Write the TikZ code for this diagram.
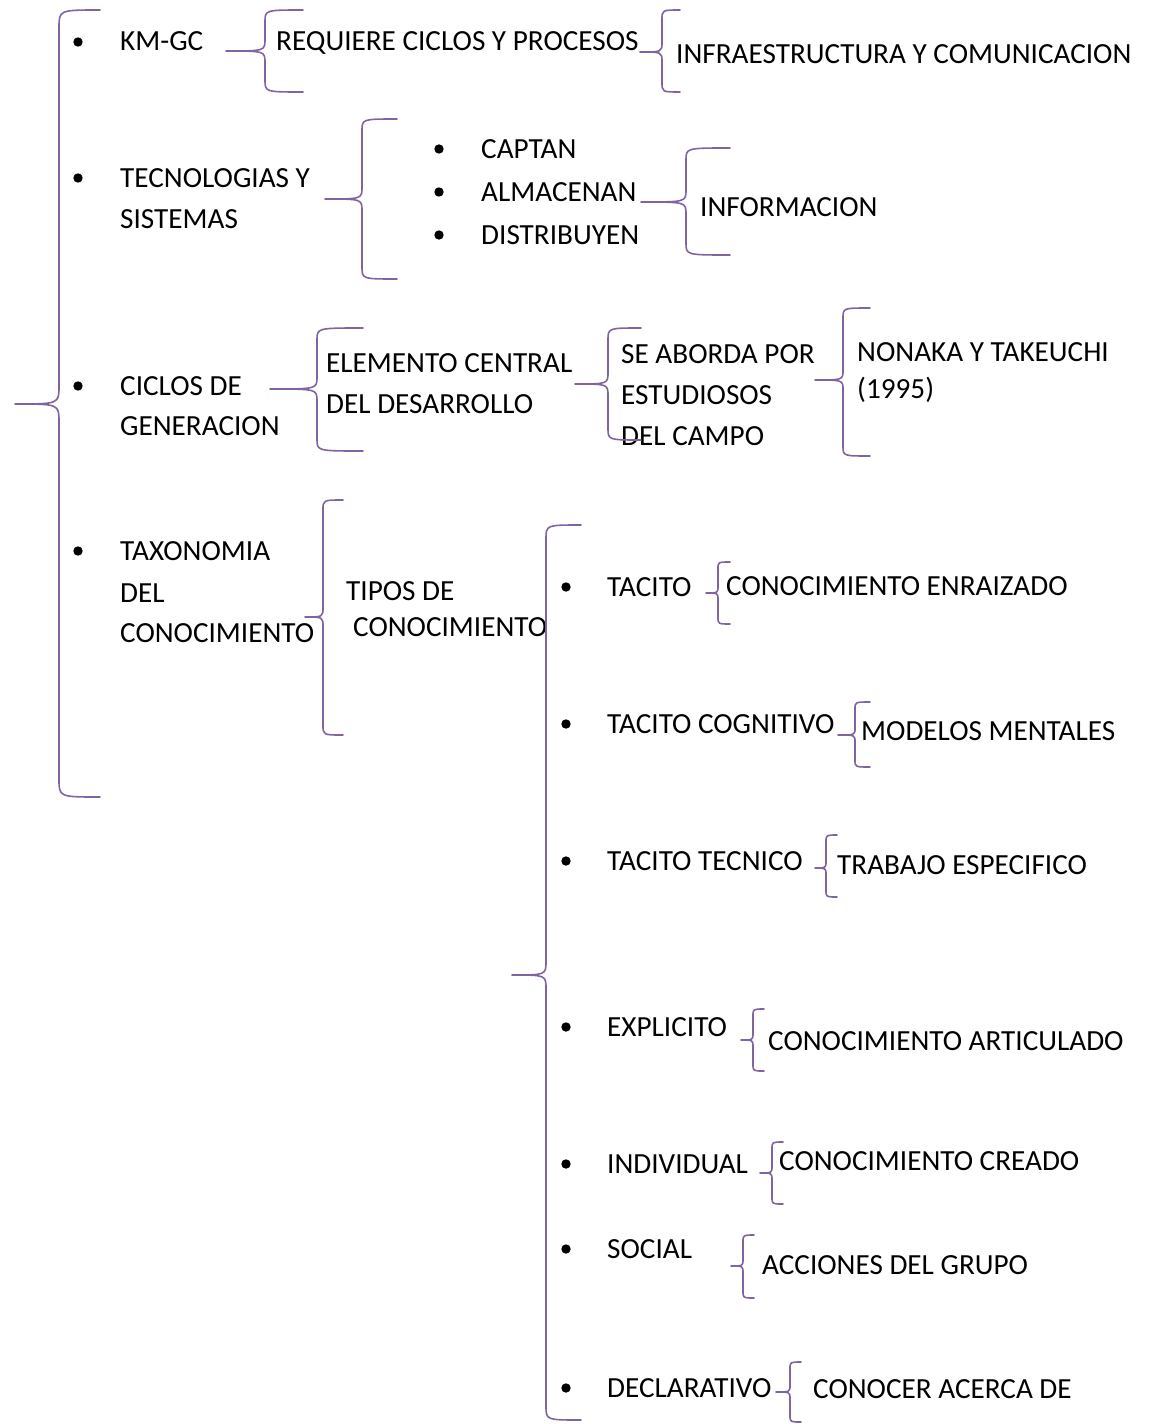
\documentclass[tikz,border=0pt]{standalone}
\usepackage{fontspec}
\setmainfont{Carlito}
\definecolor{brcol}{HTML}{8064A2}
\tikzset{
  lbl/.style={anchor=base west, inner sep=0pt, font=\fontsize{29.2}{35}\selectfont},
  bul/.style={circle, fill=black, inner sep=0pt, minimum size=9.4pt},
  bracepath/.style={draw=brcol, line width=1.6pt, line join=round, line cap=round}
}
% #1 tipx, #2 tipy, #3 vertical x, #4 end x, #5 top y, #6 bottom y, #7 corner size
\newcommand\mybrace[7]{%
  \draw[bracepath] (#4,#5) .. controls (#3,#5) .. ({#3},{#5+#7}) -- ({#3},{#2-#7})
    .. controls (#3,#2) .. (#1,#2) .. controls (#3,#2) .. ({#3},{#2+#7})
    -- ({#3},{#6-#7}) .. controls (#3,#6) .. (#4,#6);}
\begin{document}
\begin{tikzpicture}[x=1pt,y=-1pt]
\useasboundingbox (0,0) rectangle (1153,1424);
% level 1 bullets
\node[bul] (b1) at (78,42) {};
\node[bul] (b2) at (78,178) {};
\node[bul] (b3) at (78,386) {};
\node[bul] (b4) at (78,551) {};
\node[lbl] (kmgc) at (120,50) {KM-GC};
\node[lbl] (tec1) at (120,187) {TECNOLOGIAS Y};
\node[lbl] (tec2) at (120,228) {SISTEMAS};
\node[lbl] (cic1) at (120,395) {CICLOS DE};
\node[lbl] (cic2) at (120,435) {GENERACION};
\node[lbl] (tax1) at (120,560) {TAXONOMIA};
\node[lbl] (tax2) at (120,602) {DEL};
\node[lbl] (tax3) at (120,642) {CONOCIMIENTO};
% KM-GC branch
\node[lbl] (req) at (276,50) {REQUIERE CICLOS Y PROCESOS};
\node[lbl] (infra) at (676,63) {INFRAESTRUCTURA Y COMUNICACION};
% Tecnologias branch
\node[bul] (bc1) at (439,149) {};
\node[bul] (bc2) at (439,192) {};
\node[bul] (bc3) at (439,235) {};
\node[lbl] (captan) at (481,158) {CAPTAN};
\node[lbl] (almac) at (481,201) {ALMACENAN};
\node[lbl] (distr) at (481,244) {DISTRIBUYEN};
\node[lbl] (info) at (700,216) {INFORMACION};
% Ciclos branch
\node[lbl] (ele1) at (326,372) {ELEMENTO CENTRAL};
\node[lbl] (ele2) at (326,413) {DEL DESARROLLO};
\node[lbl] (se1) at (621,363) {SE ABORDA POR};
\node[lbl] (se2) at (621,404) {ESTUDIOSOS};
\node[lbl] (se3) at (621,445) {DEL CAMPO};
\node[lbl] (non1) at (857,361) {NONAKA Y TAKEUCHI};
\node[lbl] (non2) at (857,398) {(1995)};
% Taxonomia branch
\node[lbl] (tip1) at (346,600) {TIPOS DE};
\node[lbl] (tip2) at (353,636) {CONOCIMIENTO};
% types
\node[bul] (t1) at (566,587) {};
\node[bul] (t2) at (566,724) {};
\node[bul] (t3) at (566,861) {};
\node[bul] (t4) at (566,1027) {};
\node[bul] (t5) at (566,1164) {};
\node[bul] (t6) at (566,1249) {};
\node[bul] (t7) at (566,1388) {};
\node[lbl] (tacito) at (607,596) {TACITO};
\node[lbl] (tcog) at (607,733) {TACITO COGNITIVO};
\node[lbl] (ttec) at (607,870) {TACITO TECNICO};
\node[lbl] (expl) at (607,1036) {EXPLICITO};
\node[lbl] (indiv) at (607,1173) {INDIVIDUAL};
\node[lbl] (social) at (607,1258) {SOCIAL};
\node[lbl] (decl) at (607,1397) {DECLARATIVO};
\node[lbl] (d1) at (726,595) {CONOCIMIENTO ENRAIZADO};
\node[lbl] (d2) at (861,740) {MODELOS MENTALES};
\node[lbl] (d3) at (837,874) {TRABAJO ESPECIFICO};
\node[lbl] (d4) at (768,1050) {CONOCIMIENTO ARTICULADO};
\node[lbl] (d5) at (779,1170) {CONOCIMIENTO CREADO};
\node[lbl] (d6) at (762,1274) {ACCIONES DEL GRUPO};
\node[lbl] (d7) at (813,1398) {CONOCER ACERCA DE};
% braces
\mybrace{15}{404}{59}{100}{10}{797}{18}
\mybrace{226}{51}{265}{303}{10}{92}{12}
\mybrace{640}{52}{662}{680}{10}{92}{10}
\mybrace{325}{199}{362}{397}{119}{279}{12}
\mybrace{641}{202}{686}{730}{148}{255}{12}
\mybrace{270}{389}{317}{363}{328}{451}{12}
\mybrace{575}{384}{608}{641}{328}{440}{12}
\mybrace{815}{380}{843}{870}{308}{456}{10}
\mybrace{305}{617}{323}{343}{500}{735}{10}
\mybrace{512}{975}{546}{581}{525}{1420}{14}
\mybrace{706}{593}{718}{730}{562}{624}{7}
\mybrace{838}{735}{855}{870}{702}{767}{7}
\mybrace{815}{868}{826}{837}{835}{897}{7}
\mybrace{741}{1040}{753}{764}{1009}{1071}{7}
\mybrace{760}{1173}{772}{783}{1142}{1204}{7}
\mybrace{731}{1266}{743}{754}{1235}{1298}{7}
\mybrace{776}{1392}{790}{801}{1362}{1422}{7}
\end{tikzpicture}
\end{document}
